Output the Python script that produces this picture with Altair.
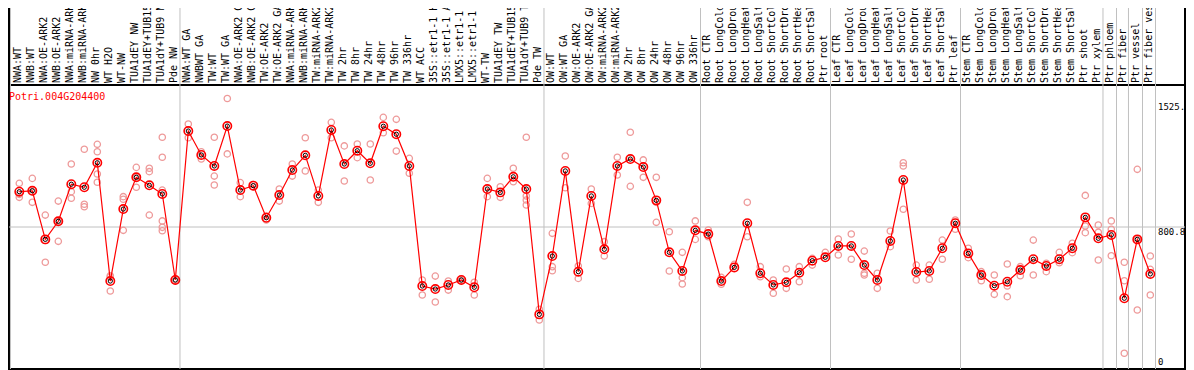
import altair as alt
import pandas as pd

labels = [
    "NWA:WT", "NWB:WT", "NWA:OE-ARK2", "NWB:OE-ARK2", "NWA:miRNA-ARK2", "NWB:miRNA-ARK2",
    "NW 0hr", "WT H2O", "WT-NW", "TUA1dEY NW", "TUA1dEY+TUB15 NW", "TUA1dY+TUB9 NW", "Pde NW",
    "NWA:WT GA", "NWBWT GA", "TW:WT", "TW:WT GA", "NWA:OE-ARK2 GA", "NWB:OE-ARK2 GA",
    "TW:OE-ARK2", "TW:OE-ARK2 GA", "NWA:miRNA-ARK2 GA", "NWB:miRNA-ARK2 GA", "TW:miRNA-ARK2",
    "TW:miRNA-ARK2 GA", "TW 2hr", "TW 8hr", "TW 24hr", "TW 48hr", "TW 96hr", "TW 336hr",
    "WT ACC", "35S::etr1-1 H2O", "35S::etr1-1 ACC", "LMX5::etr1-1 H2O", "LMX5::etr1-1 ACC",
    "WT-TW", "TUA1dEY TW", "TUA1dEY+TUB15 TW", "TUA1dY+TUB9 TW", "Pde TW",
    "OW:WT", "OW:WT GA", "OW:OE-ARK2", "OW:OE-ARK2 GA", "OW:miRNA-ARK2", "OW:miRNA-ARK2 GA",
    "OW 2hr", "OW 8hr", "OW 24hr", "OW 48hr", "OW 96hr", "OW 336hr",
    "Root CTR", "Root LongCold", "Root LongDrought", "Root LongHeat", "Root LongSalt",
    "Root ShortCold", "Root ShortDrought", "Root ShortHeat", "Root ShortSalt", "Ptr root",
    "Leaf CTR", "Leaf LongCold", "Leaf LongDrought", "Leaf LongHeat", "Leaf LongSalt",
    "Leaf ShortCold", "Leaf ShortDrought", "Leaf ShortHeat", "Leaf ShortSalt", "Ptr leaf",
    "Stem CTR", "Stem LongCold", "Stem LongDrought", "Stem LongHeat", "Stem LongSalt",
    "Stem ShortCold", "Stem ShortDrought", "Stem ShortHeat", "Stem ShortSalt", "Ptr shoot",
    "Ptr xylem", "Ptr phloem", "Ptr fiber", "Ptr vessel", "Ptr fiber vessel",
]

means = [
    1000, 1005, 731, 833, 1042, 1025, 1163, 496, 902, 1081, 1036, 987, 502,
    1342, 1207, 1145, 1370, 1009, 1034, 853, 981, 1122, 1205, 976, 1348, 1156, 1231, 1160,
    1369, 1324, 1145, 468, 451, 474, 502, 461, 1015, 996, 1084, 1015, 308,
    637, 1117, 549, 976, 675, 1145, 1184, 1139, 951, 658, 553, 782,
    761, 496, 573, 822, 540, 474, 489, 543, 611, 630,
    694, 694, 586, 502, 722, 1066, 547, 553, 681, 822,
    652, 530, 470, 492, 558, 619, 581, 619, 681, 855, 737,
    756, 399, 731, 536,
]

reps = [
    [1047, 968, 985], [1075, 940, 1000], [868, 602, 725], [947, 720, 833],
    [1156, 1000, 963], [1239, 929, 915], [1267, 1225, 1100, 1053], [526, 440, 519],
    [972, 957, 782], [1137, 1025, 1081], [1132, 1113, 868],
    [1307, 1194, 1009, 835, 799, 780], [502, 505, 498],
    [1382, 1304], [1225, 1184], [1307, 1088, 1038], [1525.3, 1213], [1051, 972],
    [1040, 1028], [863, 840], [1015, 947], [1156, 1088], [1304, 1117], [1009, 940],
    [1391, 1304], [1258, 1060], [1269, 1192], [1269, 1066], [1419, 1332], [1408, 1229],
    [1188, 1104], [502, 417], [524, 378], [496, 445], [505, 498], [489, 417],
    [1075, 972], [1028, 968], [1132, 1056], [1307, 976, 953, 925], [337, 276],
    [765, 577, 554], [1201, 1022], [581, 511], [1015, 934], [718, 637], [1194, 1094],
    [1335, 1030], [1179, 1081], [1081, 940, 827], [774, 553], [658, 515, 479], [835, 731],
    [784, 746], [517, 478], [590], [940, 746], [577, 520], [502, 427], [564, 455],
    [577, 492], [624, 586], [658],
    [733, 643], [761, 619], [665, 540, 530], [540, 455], [778, 690], [1163, 1145, 901],
    [586, 502], [586, 506], [727, 619], [840, 788],
    [681, 628], [549, 498], [530, 421], [592, 468, 408], [577, 526], [727, 530],
    [596, 549], [658, 599], [709, 656], [979, 806, 769], [812, 771, 615],
    [835, 788, 639], [602, 498, 89], [1126, 333, 731], [637, 562, 417],
]

group_bounds = [-0.68, 12.36, 40.36, 52.4, 62.4, 72.4, 83.36, 84.4, 85.32, 86.4, 87.4]
tick_values = [1525.3, 800.8, 0]
tick_texts = ["1525.", "800.8", "0"]
title_text = "Potri.004G204400"

W, H = 1176, 284
d0 = -10.3 / 13.0
d1 = d0 + W / 13.0
YMAX = 1601.6
FONT = "DejaVu Sans Mono"

xs = alt.Scale(domain=[d0, d1], nice=False, zero=False)
ys = alt.Scale(domain=[0, YMAX], nice=False, zero=False)

df_means = pd.DataFrame({"idx": list(range(len(means))), "value": means, "label": labels})
rows = []
for i, rr in enumerate(reps):
    for v in rr:
        rows.append({"idx": i, "value": v})
df_reps = pd.DataFrame(rows)
df_bounds = pd.DataFrame({"b": group_bounds})

vgrid = alt.Chart(df_bounds).mark_rule(color="#c0c0c0", strokeWidth=1).encode(
    x=alt.X("b:Q", scale=xs, axis=None), y=alt.value(-77), y2=alt.value(H)
)
hgrid = alt.Chart(pd.DataFrame({"v": [800.8]})).mark_rule(color="#c0c0c0", strokeWidth=1).encode(
    y=alt.Y("v:Q", scale=ys, axis=None), x=alt.value(0), x2=alt.value(W)
)
edge_l = alt.Chart(pd.DataFrame({"p": [0]})).mark_rule(color="black", strokeWidth=2).encode(
    x=alt.value(0), y=alt.value(-77), y2=alt.value(0)
)
edge_r = alt.Chart(pd.DataFrame({"p": [0]})).mark_rule(color="black", strokeWidth=2).encode(
    x=alt.value(W), y=alt.value(-77), y2=alt.value(0)
)

rep_pts = alt.Chart(df_reps).mark_point(
    shape="circle", filled=False, size=40, color="#ee9a9a", strokeWidth=1.3, opacity=1
).encode(
    x=alt.X("idx:Q", scale=xs, axis=None),
    y=alt.Y("value:Q", scale=ys, axis=None),
)
line = alt.Chart(df_means).mark_line(color="#ff0000", strokeWidth=1.2).encode(
    x=alt.X("idx:Q", scale=xs, axis=None),
    y=alt.Y("value:Q", scale=ys, axis=None),
)
mean_outer = alt.Chart(df_means).mark_point(
    shape="circle", filled=False, size=70, color="#ff0000", strokeWidth=1.6, opacity=1
).encode(
    x=alt.X("idx:Q", scale=xs, axis=None),
    y=alt.Y("value:Q", scale=ys, axis=None),
)
mean_inner = alt.Chart(df_means).mark_point(
    shape="circle", filled=False, size=18, color="#000000", strokeWidth=1, opacity=1
).encode(
    x=alt.X("idx:Q", scale=xs, axis=None),
    y=alt.Y("value:Q", scale=ys, axis=None),
)
top_labels = alt.Chart(df_means).mark_text(
    angle=270, align="left", baseline="middle", font=FONT, fontSize=10, color="black", dy=-1
).encode(
    x=alt.X("idx:Q", scale=xs, axis=None),
    y=alt.value(-2),
    text="label:N",
)
title = alt.Chart(pd.DataFrame({"t": [title_text]})).mark_text(
    align="left", baseline="middle", font=FONT, fontSize=10, color="#ff0000"
).encode(x=alt.value(0), y=alt.value(12), text="t:N")

tick_layers = []
tick_dy = [8.5, 5, -7]
for v, t, dy in zip(tick_values, tick_texts, tick_dy):
    tick_layers.append(
        alt.Chart(pd.DataFrame({"v": [v], "t": [t]})).mark_text(
            align="left", baseline="middle", font=FONT, fontSize=9, color="black", dy=dy
        ).encode(
            x=alt.value(1149),
            y=alt.Y("v:Q", scale=ys, axis=None),
            text="t:N",
        )
    )

chart = alt.layer(
    vgrid, hgrid, edge_l, edge_r, rep_pts, line, mean_outer, mean_inner, top_labels, title, *tick_layers
).properties(
    width=W, height=H,
    autosize=alt.AutoSizeParams(type="none"),
    padding={"left": 1, "top": 77, "right": 1, "bottom": 1},
).configure_view(
    stroke="black", strokeWidth=2
)

chart.save("out.html", embed_options={"renderer": "svg", "actions": False})
